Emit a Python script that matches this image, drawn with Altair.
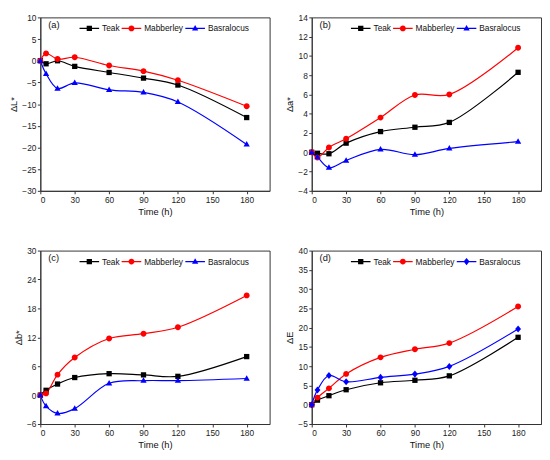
import altair as alt
import pandas as pd

time_h = [0, 5, 15, 30, 60, 90, 120, 180]
series_names = ["Teak", "Mabberley", "Basralocus"]
colors = ["#000000", "#ff0000", "#0000ff"]

dL_teak = [0, -0.7, 0.0, -1.3, -2.7, -4.0, -5.6, -13.1]
dL_mab = [0, 1.7, 0.4, 0.8, -1.1, -2.4, -4.5, -10.5]
dL_bas = [0, -3.0, -6.4, -5.1, -6.7, -7.3, -9.5, -19.3]

da_teak = [0, -0.1, -0.15, 0.95, 2.15, 2.6, 3.1, 8.3]
da_mab = [0, -0.55, 0.5, 1.4, 3.6, 5.95, 6.0, 10.85]
da_bas = [0, -0.5, -1.6, -0.85, 0.3, -0.25, 0.4, 1.1]

db_teak = [0, 1.0, 2.3, 3.65, 4.45, 4.2, 3.9, 8.0]
db_mab = [0, 0.35, 4.25, 7.8, 11.75, 12.75, 14.1, 20.7]
db_bas = [0, -2.3, -3.8, -2.8, 2.45, 3.0, 3.0, 3.45]

dE_teak = [0, 1.2, 2.35, 3.9, 5.7, 6.35, 7.5, 17.5]
dE_mab = [0, 1.85, 4.25, 8.0, 12.3, 14.4, 16.0, 25.5]
dE_bas = [0, 3.85, 7.6, 5.95, 7.1, 7.95, 9.95, 19.65]

x_ticks = [0, 30, 60, 90, 120, 150, 180]

# marker glyphs (unit coordinates, drawn at size 400)
SQUARE = "M-0.27,-0.27H0.27V0.27H-0.27Z"
CIRCLE = "M0.3,0A0.3,0.3,0,1,1,-0.3,0A0.3,0.3,0,1,1,0.3,0Z"
TRIANGLE = "M0,-0.34L0.32,0.22L-0.32,0.22Z"
DIAMOND = "M0,-0.36L0.3,0L0,0.36L-0.3,0Z"
STUB = "M-1,-0.06H1V0.06H-1Z"

FONT = "Liberation Sans"
W, H = 234, 177


def panel(values, tag, ytitle, ydom, ystep, markers):
    rows = []
    for name, vals in zip(series_names, values):
        for t, v in zip(time_h, vals):
            rows.append({"t": t, "v": v, "series": name, "sl": name})
    df = pd.DataFrame(rows)
    base = alt.Chart(df)
    yticks = list(range(ydom[0], ydom[1] + 1, ystep))
    x = alt.X("t:Q", scale=alt.Scale(domain=[0, 200], nice=False),
              axis=alt.Axis(values=x_ticks, title="Time (h)"))
    y = alt.Y("v:Q", scale=alt.Scale(domain=ydom, nice=False),
              axis=alt.Axis(values=yticks, title=ytitle))
    cscale = alt.Scale(domain=series_names, range=colors)
    line = base.mark_line(interpolate="catmull-rom", strokeWidth=1.2).encode(
        x=x, y=y,
        color=alt.Color("series:N", scale=cscale, legend=None),
    )
    pts = base.mark_point(filled=True, size=400, opacity=1, strokeWidth=0).encode(
        x=x, y=y,
        color=alt.Color("series:N", scale=cscale, legend=None),
        shape=alt.Shape("series:N", scale=alt.Scale(domain=series_names, range=markers),
                        legend=None),
    )
    leg = alt.Legend(
        title=tag,
        orient="none",
        legendX=8,
        legendY=1,
        direction="horizontal",
        titleOrient="left",
        titlePadding=20,
        titleFontSize=9.5,
        titleFontWeight="normal",
        titleFont=FONT,
        titleColor="#111111",
        titleBaseline="middle",
        labelFont=FONT,
        labelFontSize=8.5,
        labelColor="#111111",
        labelOffset=3,
        columnPadding=2,
        symbolSize=400,
        symbolStrokeWidth=0,
        padding=0,
    )
    key_shapes = [STUB + m for m in markers]
    key = base.mark_point(filled=True, size=400, opacity=1, strokeWidth=0).encode(
        x=x, y=y,
        color=alt.Color("sl:N", scale=cscale, legend=leg),
        shape=alt.Shape("sl:N", scale=alt.Scale(domain=series_names, range=key_shapes),
                        legend=leg),
    ).transform_filter("false")
    return alt.layer(line, pts, key).resolve_scale(
        color="independent", shape="independent"
    ).properties(width=W, height=H)


pa = panel([dL_teak, dL_mab, dL_bas], "(a)", "ΔL*", [-30, 10], 5, [SQUARE, CIRCLE, TRIANGLE])
pb = panel([da_teak, da_mab, da_bas], "(b)", "Δa*", [-4, 14], 2, [SQUARE, CIRCLE, TRIANGLE])
pc = panel([db_teak, db_mab, db_bas], "(c)", "Δb*", [-6, 30], 6, [SQUARE, CIRCLE, TRIANGLE])
pd_ = panel([dE_teak, dE_mab, dE_bas], "(d)", "ΔE", [-5, 40], 5, [SQUARE, CIRCLE, DIAMOND])

chart = alt.vconcat(
    alt.hconcat(pa, pb, spacing=14),
    alt.hconcat(pc, pd_, spacing=14),
    spacing=30,
).properties(padding=0, background="white").configure_view(
    stroke="#333333", strokeWidth=1
).configure_axis(
    grid=False,
    domainColor="#333333",
    tickColor="#333333",
    tickSize=3,
    labelFont=FONT,
    labelFontSize=8.5,
    labelColor="#222222",
    labelPadding=1.5,
    titleFont=FONT,
    titleFontSize=9.5,
    titleFontWeight="normal",
    titleColor="#111111",
    titlePadding=3,
)

chart.save("out.html", embed_options={"renderer": "svg", "actions": False})
